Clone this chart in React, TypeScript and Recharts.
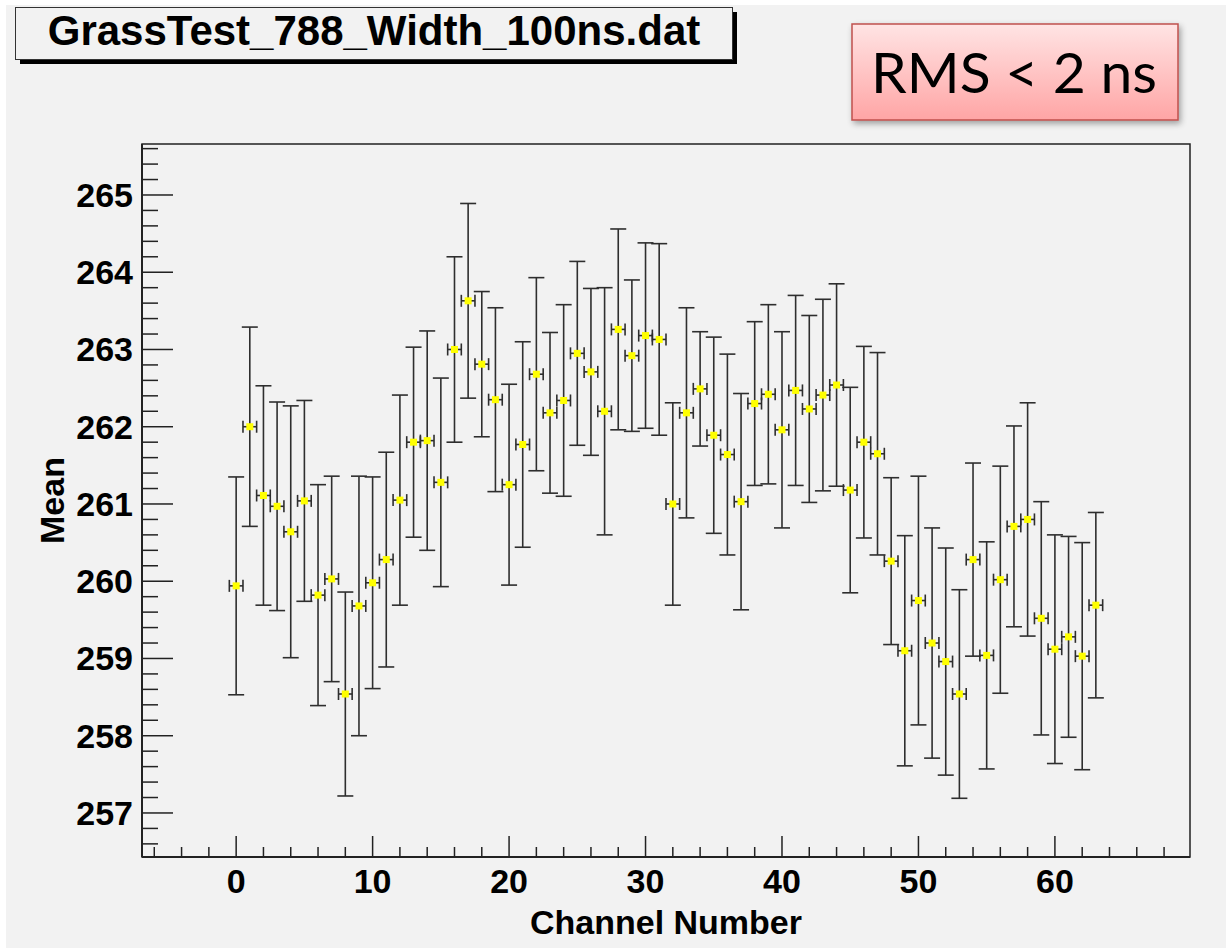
import { ScatterChart, Scatter, XAxis, YAxis, ErrorBar, ReferenceArea } from "recharts";

// channel number, mean and its error
const channels = [
  0, 1, 2, 3, 4, 5, 6, 7, 8, 9, 10, 11, 12, 13, 14, 15,
  16, 17, 18, 19, 20, 21, 22, 23, 24, 25, 26, 27, 28, 29, 30, 31,
  32, 33, 34, 35, 36, 37, 38, 39, 40, 41, 42, 43, 44, 45, 46, 47,
  48, 49, 50, 51, 52, 53, 54, 55, 56, 57, 58, 59, 60, 61, 62, 63,
];
const means = [
  259.94, 262.0, 261.11, 260.97, 260.64, 261.04, 259.82, 260.03, 258.54, 259.68, 259.98, 260.28, 261.05, 261.8, 261.82, 261.28,
  263.0, 263.63, 262.81, 262.35, 261.25, 261.77, 262.68, 262.18, 262.34, 262.95, 262.71, 262.2, 263.26, 262.92, 263.18, 263.13,
  261.0, 262.18, 262.49, 261.89, 261.64, 261.03, 262.3, 262.42, 261.96, 262.47, 262.23, 262.41, 262.54, 261.18, 261.8, 261.65,
  260.26, 259.1, 259.75, 259.2, 258.96, 258.54, 260.28, 259.04, 260.02, 260.71, 260.8, 259.52, 259.12, 259.28, 259.03, 259.69,
];
const errors = [
  1.41, 1.29, 1.42, 1.35, 1.63, 1.3, 1.43, 1.33, 1.32, 1.68, 1.37, 1.39, 1.36, 1.23, 1.42, 1.35,
  1.2, 1.26, 0.94, 1.19, 1.3, 1.33, 1.25, 1.04, 1.24, 1.19, 1.08, 1.6, 1.3, 0.98, 1.2, 1.24,
  1.31, 1.36, 0.74, 1.27, 1.3, 1.4, 1.06, 1.16, 1.27, 1.23, 1.21, 1.24, 1.31, 1.33, 1.24, 1.31,
  1.08, 1.49, 1.61, 1.49, 1.47, 1.35, 1.25, 1.47, 1.47, 1.3, 1.51, 1.51, 1.48, 1.3, 1.47, 1.2,
];
const binHalfWidth = 0.5;

const xDomain = [-6.9, 69.9];
const yDomain = [256.43, 265.66];

const xTicks: number[] = [];
for (let v = -6; v <= 68; v += 2) xTicks.push(v);
const yTicks: number[] = [];
for (let i = 0; i <= 45; i++) yTicks.push(Math.round((256.6 + i * 0.2) * 10) / 10);

const rows = channels.map((ch, i) => ({ ch, mean: means[i], err: errors[i], xerr: binHalfWidth }));

const FONT = "'Liberation Sans', Arial, Helvetica, sans-serif";

function XTick({ x, y, payload }: any) {
  const v = payload.value;
  const major = v % 10 === 0;
  return (
    <g>
      <line x1={x} y1={y} x2={x} y2={y - (major ? 21 : 10)} stroke="#222" strokeWidth={1.5} />
      {major && (
        <text x={x} y={y + 36} textAnchor="middle" fontFamily={FONT} fontWeight="bold" fontSize={34} fill="#000">
          {v}
        </text>
      )}
    </g>
  );
}

function YTick({ x, y, payload }: any) {
  const v = payload.value;
  const major = Math.abs(v - Math.round(v)) < 1e-6;
  return (
    <g>
      <line x1={x} y1={y} x2={x + (major ? 31 : 16)} y2={y} stroke="#222" strokeWidth={1.5} />
      {major && (
        <text x={x - 9} y={y + 12} textAnchor="end" fontFamily={FONT} fontWeight="bold" fontSize={34} fill="#000">
          {Math.round(v)}
        </text>
      )}
    </g>
  );
}

const NoMarker = () => <g />;
const Marker = (p: any) => <rect x={p.cx - 3.5} y={p.cy - 3.5} width={7} height={7} fill="#ffff00" />;

export default function App() {
  return (
    <div style={{ position: "absolute", left: 0, top: 0, width: 1226, height: 948, background: "#fff" }}>
      <div style={{ position: "absolute", left: 6, top: 5, right: 0, bottom: 0, background: "#f2f2f2" }} />
      <div style={{ position: "absolute", left: 0, top: 0 }}>
        <ScatterChart width={1226} height={948} margin={{ top: 144, right: 36, bottom: 0, left: 0 }}>
          <XAxis
            type="number"
            dataKey="ch"
            domain={xDomain}
            allowDataOverflow
            ticks={xTicks}
            interval={0}
            height={91}
            tickSize={0}
            tickMargin={0}
            tickLine={false}
            tick={<XTick />}
            axisLine={{ stroke: "#222", strokeWidth: 2 }}
            label={{ value: "Channel Number", position: "insideBottom", offset: 14, fontFamily: FONT, fontWeight: "bold", fontSize: 34, fill: "#000" }}
          />
          <YAxis
            type="number"
            dataKey="mean"
            domain={yDomain}
            allowDataOverflow
            ticks={yTicks}
            interval={0}
            width={142}
            tickSize={0}
            tickMargin={0}
            tickLine={false}
            tick={<YTick />}
            axisLine={{ stroke: "#222", strokeWidth: 2 }}
            label={{ value: "Mean", angle: -90, position: "center", dx: -19, fontFamily: FONT, fontWeight: "bold", fontSize: 34, fill: "#000" }}
          />
          <ReferenceArea x1={xDomain[0]} x2={xDomain[1]} y1={yDomain[0]} y2={yDomain[1]} fill="none" stroke="#222" strokeWidth={1.5} />
          <Scatter data={rows} shape={NoMarker} isAnimationActive={false}>
            <ErrorBar dataKey="err" direction="y" width={8} stroke="#2e2e2e" strokeWidth={1.6} />
            <ErrorBar dataKey="xerr" direction="x" width={6} stroke="#2e2e2e" strokeWidth={1.6} />
          </Scatter>
          <Scatter data={rows} shape={Marker} isAnimationActive={false} />
        </ScatterChart>
      </div>
      <svg width={1226} height={948} style={{ position: "absolute", left: 0, top: 0, pointerEvents: "none" }}>
        <defs>
          <linearGradient id="rmsFill" x1="0" y1="0" x2="0" y2="1">
            <stop offset="0%" stopColor="#ffe4e4" />
            <stop offset="100%" stopColor="#ffa5a5" />
          </linearGradient>
          <filter id="rmsShadow" x="-10%" y="-20%" width="130%" height="150%">
            <feGaussianBlur in="SourceAlpha" stdDeviation="3" />
            <feOffset dx="2" dy="3" result="b" />
            <feComponentTransfer>
              <feFuncA type="linear" slope="0.35" />
            </feComponentTransfer>
            <feMerge>
              <feMergeNode />
              <feMergeNode in="SourceGraphic" />
            </feMerge>
          </filter>
        </defs>
        <rect x={20} y={12} width={717} height={52} fill="#000" />
        <rect x={15.5} y={7.5} width={717} height={52} fill="#f2f2f2" stroke="#333" strokeWidth={1} />
        <text x={374} y={45} textAnchor="middle" fontFamily={FONT} fontWeight="bold" fontSize={42} fill="#000">
          GrassTest_788_Width_100ns.dat
        </text>
        <rect x={852} y={24} width={326} height={96} fill="url(#rmsFill)" stroke="#c0504d" strokeWidth={1.5} filter="url(#rmsShadow)" />
        <text x={1014} y={93} textAnchor="middle" fontFamily="Lato, 'Open Sans', sans-serif" fontSize={57} fill="#000">
          RMS &lt; 2 ns
        </text>
      </svg>
    </div>
  );
}
